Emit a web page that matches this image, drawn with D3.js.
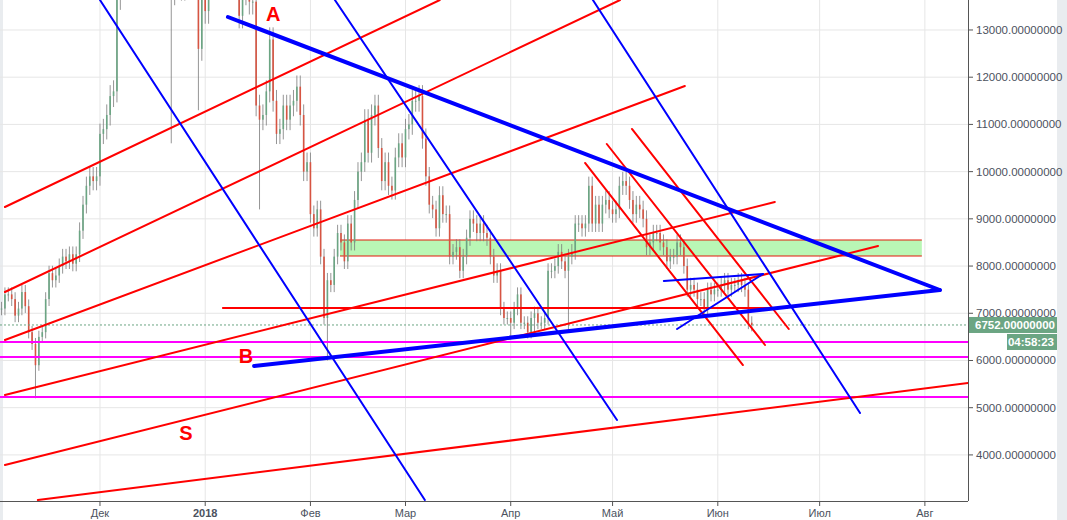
<!DOCTYPE html><html><head><meta charset="utf-8">
<script src="https://cdn.jsdelivr.net/npm/d3@7"></script>
<style>body{margin:0;background:#fff;font-family:"Liberation Sans",Arial,sans-serif}</style></head><body>
<svg id="c" width="1067" height="520"></svg>
<script>
// daily closes starting 2017-11-02
const startDate = "2017-11-02";
const closes = [
7100,7400,7400,7300,6950,7100,7450,7150,6600,6350,
5900,6500,6600,7300,7850,7700,7800,8000,8200,
8100,8250,8050,8250,8750,9300,9700,9900,9800,9900,
10800,10900,11200,11600,11700,13700,16900,16400,14900,15200,
16700,17400,16400,17600,17800,19400,19100,18900,17700,16600,
15600,13800,14600,14000,13900,15800,15400,14400,14400,12600,14100,
13400,14700,15100,15100,17100,17200,16200,15000,14400,14900,
13300,13800,14200,13600,13600,11400,11100,11200,11700,12800,
11500,10800,10900,11400,11100,11400,11500,11800,11200,10000,10200,
9100,8800,9200,8200,6900,7700,7600,8200,8700,8500,
8100,8900,8500,9400,10000,10200,11100,10400,11200,11400,
10500,9800,10200,9700,9600,10300,10600,10300,
10900,11000,11500,11500,11600,10700,9900,9300,9200,8800,
9500,9100,9100,8200,8300,8400,7900,8200,8600,9000,
8900,8700,8900,8700,8600,8200,7800,7900,7100,6900,6900,
6800,7100,7400,6800,6800,6600,6900,7000,6800,6800,
6900,7900,7900,8000,8300,8100,7900,8200,8300,8900,
8900,8800,8900,9700,8900,9300,8900,9300,9400,9200,
9100,9200,9700,9800,9700,9400,9100,9300,9200,9000,
8400,8500,8700,8700,8500,8400,8100,8200,8200,8500,
8400,8000,7500,7600,7500,7300,7300,7100,7500,7400,7500,
7500,7600,7700,7500,7600,7600,7700,7600,7500,6800,6752];
const wickPct = 0.02;
// notable daily lows: [dayIndex, low]
const lowOverrides = [[10,5200],[50,10600],[58,11300],[76,9200],[96,6000],[150,6450],[157,6500],[167,6600]];
// drawn lines: [dayFromDec1, price, dayFromDec1, price]
const redLines = [[-28,9251,100.1,13635],[-28,7450,153.2,13635],[-28,6434,172.3,11814],[-28,5269,198.8,9357],[-28,3786,229.2,8425],[-18.3,3045,255.7,5523],
 [142.9,10183,189.4,5904],[149.3,10585,195.9,6328],[156.7,10903,202.9,6667],[36.2,7112,202.4,7112]];
const blueThin = [[0,13635,95.7,3045],[69.2,13635,152.3,4739],[145.2,13635,223.9,4888],[166.1,7683,195.3,7832],[170.0,6667,195.3,7832]];
const blueThick = [[37.7,13275,247.4,7493],[45.4,5883,247.4,7493]];
const magentaLevels = [6392,6074,5227];
const zone = [70.7,8213,242.1,8552];
const lastPrice = 6752;
const labels = [["A",51,13339],["B",43,6095],["S",25.3,4464]];
const yTicks = [4000,5000,6000,7000,8000,9000,10000,11000,12000,13000];
const xTicks = [["Дек","2017-12-01"],["2018","2018-01-01"],["Фев","2018-02-01"],["Мар","2018-03-01"],["Апр","2018-04-01"],["Май","2018-05-01"],["Июн","2018-06-01"],["Июл","2018-07-01"],["Авг","2018-08-01"]];

const svg=d3.select("#c");
const W=968,H=501;
const pd=d3.timeParse("%Y-%m-%d");
const dec1=pd("2017-12-01");
const D=d=>new Date(dec1.getTime()+d*86400000);
const x=d3.scaleTime().domain([D(-29.45),D(255.7)]).range([0,W]);
const y=d3.scaleLinear().domain([3024,13635]).range([H,0]);
svg.append("rect").attr("x",1057).attr("width",10).attr("height",520).attr("fill","#e9ecef");
svg.append("rect").attr("width",3).attr("height",520).attr("fill","#e9ecef");
svg.append("defs").append("clipPath").attr("id","cp").append("rect").attr("width",W).attr("height",H);
const g=svg.append("g").attr("clip-path","url(#cp)");
yTicks.forEach(t=>g.append("line").attr("x1",0).attr("x2",W).attr("y1",y(t)).attr("y2",y(t)).attr("stroke","#e6e6e6"));
xTicks.forEach(t=>g.append("line").attr("x1",x(pd(t[1]))).attr("x2",x(pd(t[1]))).attr("y1",0).attr("y2",H).attr("stroke","#e6e6e6"));
g.append("rect").attr("x",x(D(zone[0]))).attr("width",x(D(zone[2]))-x(D(zone[0]))).attr("y",y(zone[3])).attr("height",y(zone[1])-y(zone[3])).attr("fill","#b9f7b5");
[zone[1],zone[3]].forEach(p=>g.append("line").attr("x1",x(D(zone[0]))).attr("x2",x(D(zone[2]))).attr("y1",y(p)).attr("y2",y(p)).attr("stroke","#e31a0c").attr("stroke-width",1.2));
const s0=pd(startDate);
const lowMap=new Map(lowOverrides);
const cw=1.6;
closes.forEach((c,i)=>{
  const o=i?closes[i-1]:c;
  const t=new Date(s0.getTime()+i*86400000), cx=x(t);
  const hi=Math.max(o,c)*(1+wickPct);
  const lo=lowMap.has(i)?lowMap.get(i):Math.min(o,c)*(1-wickPct);
  const col=c>=o?"#6ba583":"#d75442";
  g.append("line").attr("x1",cx).attr("x2",cx).attr("y1",y(hi)).attr("y2",y(lo)).attr("stroke","#7a7a7a").attr("stroke-width",0.8);
  g.append("rect").attr("x",cx-cw/2).attr("width",cw).attr("y",y(Math.max(o,c))).attr("height",Math.max(1,Math.abs(y(o)-y(c)))).attr("fill",col);
});
magentaLevels.forEach(p=>g.append("line").attr("x1",0).attr("x2",W).attr("y1",y(p)).attr("y2",y(p)).attr("stroke","#ff00ff").attr("stroke-width",2));
g.append("line").attr("x1",0).attr("x2",W).attr("y1",y(lastPrice)).attr("y2",y(lastPrice)).attr("stroke","#6ba583").attr("stroke-dasharray","2,2");
const seg=(arr,col,w)=>arr.forEach(l=>g.append("line").attr("x1",x(D(l[0]))).attr("y1",y(l[1])).attr("x2",x(D(l[2]))).attr("y2",y(l[3])).attr("stroke",col).attr("stroke-width",w).attr("stroke-linecap","round"));
seg(redLines,"#ff0000",2);
seg(blueThin,"#0000ff",2);
seg(blueThick,"#0000ff",4);
labels.forEach(l=>g.append("text").attr("x",x(D(l[1]))).attr("y",y(l[2])).attr("text-anchor","middle").attr("dominant-baseline","central").attr("fill","#ff0000").attr("font-weight","bold").attr("font-size",20).text(l[0]));
svg.append("line").attr("x1",W+0.5).attr("x2",W+0.5).attr("y1",0).attr("y2",H).attr("stroke","#555");
svg.append("line").attr("x1",0).attr("x2",W).attr("y1",H+0.5).attr("y2",H+0.5).attr("stroke","#555");
yTicks.forEach(t=>{svg.append("line").attr("x1",W).attr("x2",W+5).attr("y1",y(t)).attr("y2",y(t)).attr("stroke","#555");
 svg.append("text").attr("x",W+8).attr("y",y(t)).attr("dominant-baseline","central").attr("font-size",11.5).attr("fill","#4c525e").text(t+".00000000");});
xTicks.forEach(t=>{const xx=x(pd(t[1]));svg.append("line").attr("x1",xx).attr("x2",xx).attr("y1",H).attr("y2",H+5).attr("stroke","#555");
 svg.append("text").attr("x",xx).attr("y",H+12).attr("text-anchor","middle").attr("dominant-baseline","central").attr("font-size",11).attr("fill","#4c525e").attr("font-weight",t[0]=="2018"?"bold":"normal").text(t[0]);});
const ly=y(lastPrice);
svg.append("rect").attr("x",W+1).attr("y",ly-8).attr("width",88).attr("height",16).attr("fill","#6ba583");
svg.append("text").attr("x",W+7).attr("y",ly).attr("dominant-baseline","central").attr("font-size",11.5).attr("font-weight","bold").attr("fill","#fff").text(lastPrice+".00000000");
svg.append("rect").attr("x",W+39).attr("y",ly+9).attr("width",50).attr("height",16).attr("fill","#6ba583");
svg.append("text").attr("x",W+86).attr("y",ly+17).attr("text-anchor","end").attr("dominant-baseline","central").attr("font-size",11.5).attr("font-weight","bold").attr("fill","#fff").text("04:58:23");
</script></body></html>
